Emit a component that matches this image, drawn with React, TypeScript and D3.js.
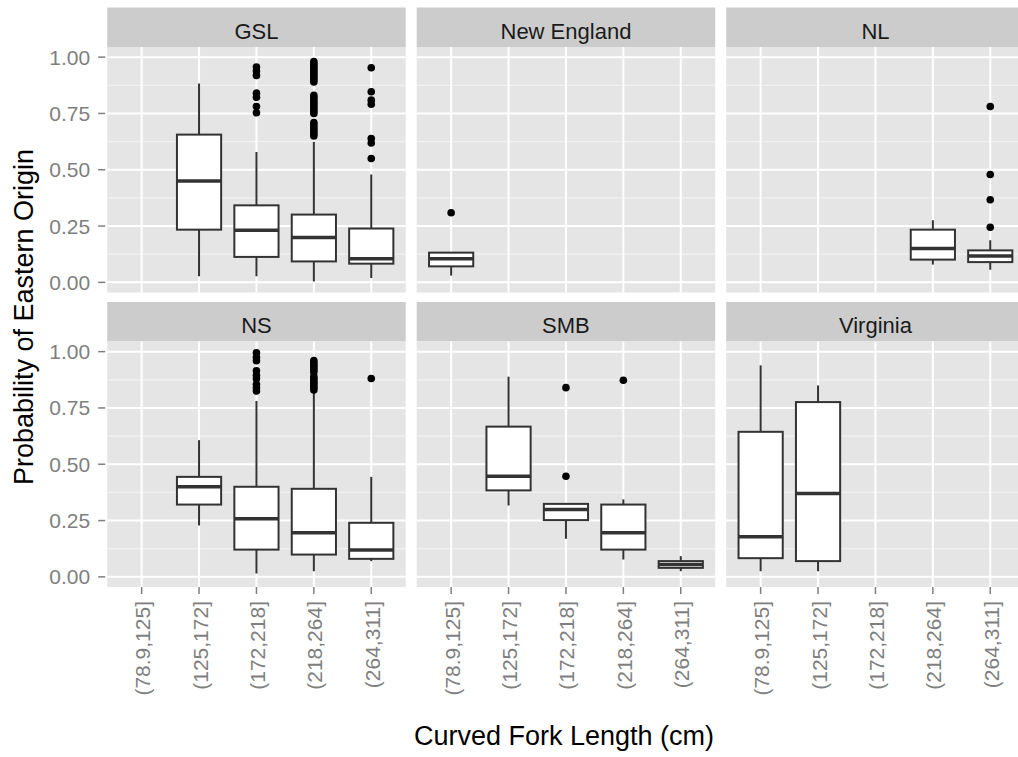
import React from 'react';
import * as d3 from 'd3';

// x categories (curved fork length bins) and facet names
const categories = ['(78.9,125]', '(125,172]', '(172,218]', '(218,264]', '(264,311]'];
const facets = ['GSL', 'New England', 'NL', 'NS', 'SMB', 'Virginia'];
const yTicks = [0, 0.25, 0.5, 0.75, 1];
const yMinor = [0.125, 0.375, 0.625, 0.875];

// box stats per category: [lower whisker, Q1, median, Q3, upper whisker], null = no data
const gslBoxes = [null, [0.027, 0.234, 0.45, 0.656, 0.883], [0.027, 0.113, 0.231, 0.342, 0.579], [0.004, 0.093, 0.199, 0.301, 0.624], [0.019, 0.083, 0.105, 0.239, 0.479]];
const newEnglandBoxes = [[0.03, 0.071, 0.105, 0.132, 0.132], null, null, null, null];
const nlBoxes = [null, null, null, [0.079, 0.101, 0.15, 0.234, 0.276], [0.056, 0.09, 0.117, 0.142, 0.187]];
const nsBoxes = [null, [0.228, 0.321, 0.4, 0.444, 0.607], [0.015, 0.121, 0.258, 0.4, 0.781], [0.025, 0.099, 0.196, 0.391, 0.82], [0.07, 0.08, 0.119, 0.24, 0.444]];
const smbBoxes = [null, [0.317, 0.384, 0.447, 0.667, 0.889], [0.169, 0.252, 0.299, 0.324, 0.324], [0.077, 0.121, 0.196, 0.321, 0.344], [0.025, 0.04, 0.055, 0.07, 0.092]];
const virginiaBoxes = [[0.025, 0.083, 0.178, 0.644, 0.939], [0.025, 0.07, 0.37, 0.776, 0.85], null, null, null];

// outliers per category
const gslOutliers = [[], [], [0.956, 0.938, 0.919, 0.84, 0.822, 0.781, 0.753],
  [0.98, 0.97, 0.96, 0.95, 0.94, 0.93, 0.92, 0.91, 0.9, 0.89, 0.83, 0.82, 0.81, 0.8, 0.79, 0.78, 0.77, 0.76, 0.75, 0.71, 0.7, 0.69, 0.68, 0.67, 0.66, 0.65],
  [0.953, 0.846, 0.809, 0.791, 0.639, 0.619, 0.55]];
const newEnglandOutliers = [[0.309], [], [], [], []];
const nlOutliers = [[], [], [], [], [0.781, 0.479, 0.367, 0.245]];
const nsOutliers = [[], [], [0.995, 0.975, 0.96, 0.915, 0.895, 0.88, 0.855, 0.84, 0.825],
  [0.96, 0.95, 0.94, 0.93, 0.92, 0.91, 0.89, 0.88, 0.87, 0.86, 0.85, 0.84, 0.83], [0.881]];
const smbOutliers = [[], [], [0.84, 0.447], [0.873], []];
const virginiaOutliers = [[], [], [], [], []];

const facetBoxes = [gslBoxes, newEnglandBoxes, nlBoxes, nsBoxes, smbBoxes, virginiaBoxes];
const facetOutliers = [gslOutliers, newEnglandOutliers, nlOutliers, nsOutliers, smbOutliers, virginiaOutliers];

const W = 1018, H = 757;
const panelLeft0 = 107.2, panelW = 298.5, colStep = 309.5;
const stripTops = [7.5, 302], stripH = 39.5, panelH = 245.5;
const font = 'Liberation Sans, Arial, sans-serif';
const grey50 = '#7F7F7F';
const boxCol = '#333333';

function Panel({ idx }: { idx: number }) {
  const col = idx % 3, row = Math.floor(idx / 3);
  const left = panelLeft0 + col * colStep;
  const sTop = stripTops[row];
  const top = sTop + stripH;
  const x = d3.scalePoint<string>().domain(categories).range([left, left + panelW]).padding(0.6);
  const y = d3.scaleLinear().domain([-0.045, 1.045]).range([top + panelH, top]);
  const bw = x.step() * 0.77;
  const boxes = facetBoxes[idx];
  const outs = facetOutliers[idx];

  return (
    <g>
      <rect x={left} y={sTop} width={panelW} height={stripH} fill="#CCCCCC" />
      <text x={left + panelW / 2} y={sTop + 31} textAnchor="middle" fontSize={22} fill="#1A1A1A" fontFamily={font}>
        {facets[idx]}
      </text>
      <rect x={left} y={top} width={panelW} height={panelH} fill="#E5E5E5" />
      {yMinor.map(v => (
        <line key={'mn' + v} x1={left} x2={left + panelW} y1={y(v)} y2={y(v)} stroke="#F2F2F2" strokeWidth={1.2} />
      ))}
      {yTicks.map(v => (
        <line key={'mj' + v} x1={left} x2={left + panelW} y1={y(v)} y2={y(v)} stroke="#FFFFFF" strokeWidth={2} />
      ))}
      {categories.map(c => (
        <line key={'vx' + c} x1={x(c)} x2={x(c)} y1={top} y2={top + panelH} stroke="#FFFFFF" strokeWidth={2} />
      ))}
      {boxes.map((b, i) => {
        if (!b) return null;
        const cx = x(categories[i]) as number;
        const [lo, q1, med, q3, hi] = b;
        return (
          <g key={'b' + i}>
            <line x1={cx} x2={cx} y1={y(hi)} y2={y(q3)} stroke={boxCol} strokeWidth={2} />
            <line x1={cx} x2={cx} y1={y(q1)} y2={y(lo)} stroke={boxCol} strokeWidth={2} />
            <rect x={cx - bw / 2} y={y(q3)} width={bw} height={y(q1) - y(q3)} fill="#FFFFFF" stroke={boxCol} strokeWidth={2} />
            <line x1={cx - bw / 2} x2={cx + bw / 2} y1={y(med)} y2={y(med)} stroke={boxCol} strokeWidth={3.5} />
          </g>
        );
      })}
      {outs.map((vals, i) => vals.map((v, j) => (
        <circle key={'o' + i + '-' + j} cx={x(categories[i])} cy={y(v)} r={3.8} fill="#000000" />
      )))}
      {col === 0 && yTicks.map(v => (
        <g key={'yt' + v}>
          <line x1={left - 9} x2={left - 2} y1={y(v)} y2={y(v)} stroke={grey50} strokeWidth={1.5} />
          <text x={left - 17} y={y(v)} textAnchor="end" dominantBaseline="central" fontSize={21} fill={grey50} fontFamily={font}>
            {d3.format('.2f')(v)}
          </text>
        </g>
      ))}
      {row === 1 && categories.map(c => {
        const cx = x(c) as number;
        return (
          <g key={'xt' + c}>
            <line x1={cx} x2={cx} y1={top + panelH} y2={top + panelH + 7} stroke={grey50} strokeWidth={1.5} />
            <text x={cx + 1} y={601} transform={`rotate(-90, ${cx + 1}, 601)`} textAnchor="end" dominantBaseline="central"
              fontSize={21} fill={grey50} fontFamily={font}>
              {c}
            </text>
          </g>
        );
      })}
    </g>
  );
}

export default function App() {
  return (
    <div style={{ position: 'absolute', left: 0, top: 0 }}>
      <svg width={W} height={H} style={{ display: 'block', background: '#FFFFFF' }}>
        {facets.map((f, i) => <Panel key={f} idx={i} />)}
        <text x={564} y={745} textAnchor="middle" fontSize={27} fill="#000000" fontFamily={font}>
          Curved Fork Length (cm)
        </text>
        <text x={33} y={317} transform="rotate(-90, 33, 317)" textAnchor="middle" fontSize={27} fill="#000000" fontFamily={font}>
          Probability of Eastern Origin
        </text>
      </svg>
    </div>
  );
}
